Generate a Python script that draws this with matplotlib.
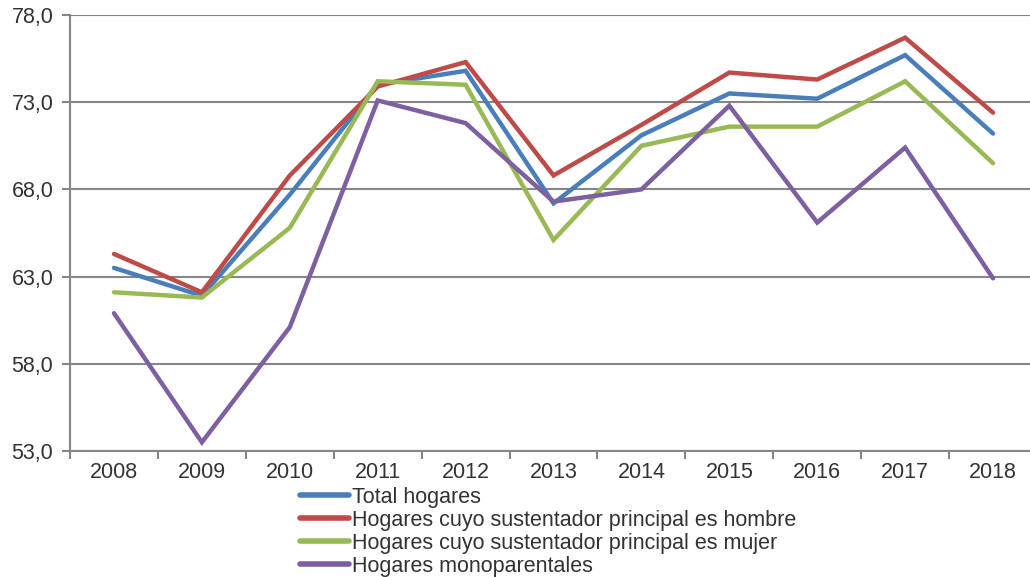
import matplotlib
matplotlib.use("Agg")
import matplotlib.pyplot as plt
from matplotlib.ticker import FuncFormatter

# data
years = ["2008", "2009", "2010", "2011", "2012", "2013", "2014", "2015", "2016", "2017", "2018"]
total = [63.5, 61.9, 67.7, 74.0, 74.8, 67.2, 71.1, 73.5, 73.2, 75.7, 71.2]
hombre = [64.3, 62.1, 68.8, 73.9, 75.3, 68.8, 71.7, 74.7, 74.3, 76.7, 72.4]
mujer = [62.1, 61.8, 65.8, 74.2, 74.0, 65.1, 70.5, 71.6, 71.6, 74.2, 69.5]
mono = [60.9, 53.5, 60.1, 73.1, 71.8, 67.3, 68.0, 72.8, 66.1, 70.4, 62.9]

labels = [
    "Total hogares",
    "Hogares cuyo sustentador principal es hombre",
    "Hogares cuyo sustentador principal es mujer",
    "Hogares monoparentales",
]
colors = ["#4A7EBB", "#BE4B48", "#98B954", "#7D60A0"]

plt.rcParams["font.family"] = ["Liberation Sans", "DejaVu Sans"]
grey = "#868686"
fs = 15.5

fig = plt.figure(figsize=(10.3, 5.77), dpi=100)
ax = fig.add_axes([0.068, 0.2184, 0.9388, 0.7556])

x = list(range(len(years)))
for s, lab, c in zip([total, hombre, mujer, mono], labels, colors):
    ax.plot(x, s, color=c, lw=3.2, label=lab, solid_capstyle="round", solid_joinstyle="miter")

ax.set_ylim(53, 78)
ax.set_yticks([53, 58, 63, 68, 73, 78])
ax.yaxis.set_major_formatter(FuncFormatter(lambda v, p: f"{v:.1f}".replace(".", ",")))
ax.set_xlim(-0.5, len(years) - 0.5)
ax.set_xticks(x)
ax.set_xticklabels(years)
ax.set_xticks([i - 0.5 for i in range(len(years) + 1)], minor=True)
ax.tick_params(axis="x", which="major", length=0, pad=8, labelsize=fs, labelcolor="#333333")
ax.tick_params(axis="x", which="minor", length=6, width=1.5, color=grey, direction="out")
ax.tick_params(axis="y", length=6, width=1.5, color=grey, labelsize=fs, labelcolor="#333333", pad=6)

ax.grid(axis="y", color=grey, lw=1.5)
ax.set_axisbelow(True)
for side in ["top", "right"]:
    ax.spines[side].set_visible(False)
for side in ["left", "bottom"]:
    ax.spines[side].set_color(grey)
    ax.spines[side].set_linewidth(1.5)

leg = fig.legend(loc="upper left", bbox_to_anchor=(0.291, 0.156), frameon=False,
                 fontsize=fs, handlelength=2.3, handletextpad=0.15, labelspacing=0.09,
                 borderpad=0, borderaxespad=0)
for h in leg.get_lines():
    h.set_linewidth(4)
for t in leg.get_texts():
    t.set_color("#333333")

fig.savefig("out.png", dpi=100)
